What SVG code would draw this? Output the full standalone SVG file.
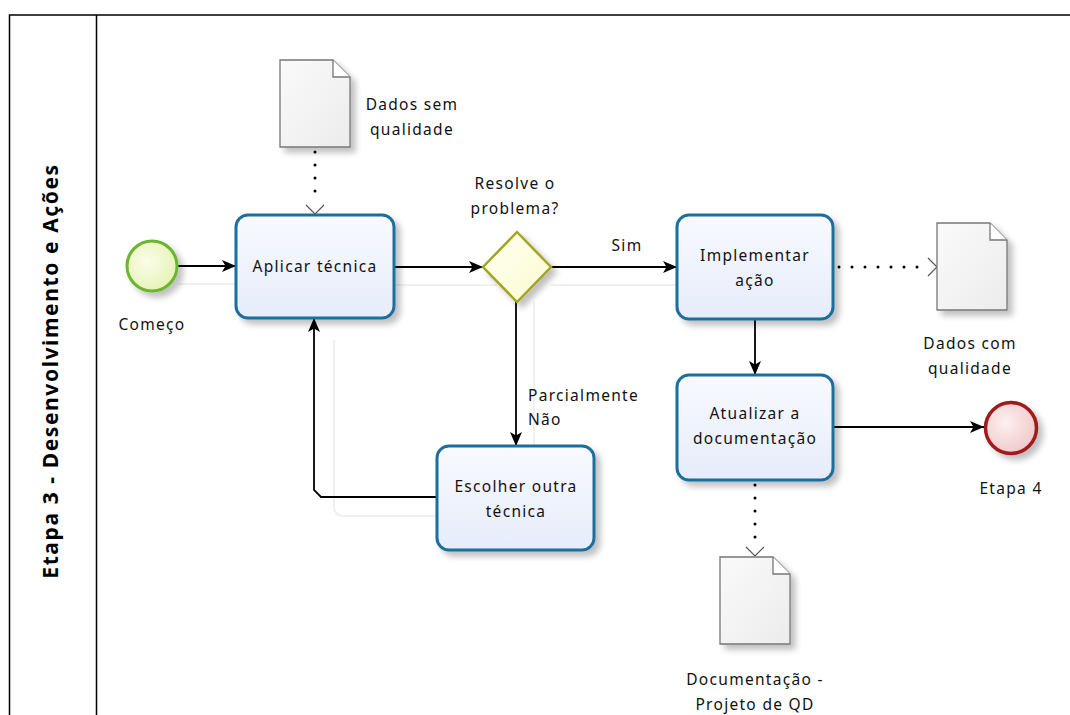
<svg xmlns="http://www.w3.org/2000/svg" width="1070" height="715" viewBox="0 0 1070 715">
  <defs>
    <style>
      .lbl { font-family: "Noto Sans", "DejaVu Sans", sans-serif; font-size: 15.5px; letter-spacing: 1.3px; fill: #111; text-anchor: middle; }
      .lbl-l { font-family: "Noto Sans", "DejaVu Sans", sans-serif; font-size: 15.5px; letter-spacing: 1.3px; fill: #111; }
      .title { font-family: "Noto Sans", "DejaVu Sans", sans-serif; font-size: 21px; letter-spacing: 1.6px; font-weight: bold; fill: #000; text-anchor: middle; }
      .task { fill: url(#taskFill); stroke: #1c6e9f; stroke-width: 3; filter: url(#shadow); }
      .doc { fill: url(#docFill); stroke: #777; stroke-width: 1.3; filter: url(#shadow); }
      .fold { fill: #fff; stroke: #777; stroke-width: 1.3; }
      .flow { fill: none; stroke: #000; stroke-width: 1.8; marker-end: url(#arrow); }
      .assoc { fill: none; stroke: #000; stroke-width: 3; stroke-dasharray: 0 13; stroke-linecap: round; }
      .assoc-head { fill: none; stroke: #555; stroke-width: 1.2; }
      .ghost { fill: none; stroke: #f0f0f0; stroke-width: 2; }
    </style>
    <linearGradient id="taskFill" x1="0" y1="0" x2="0" y2="1">
      <stop offset="0" stop-color="#f8faff"/>
      <stop offset="1" stop-color="#e6ecfa"/>
    </linearGradient>
    <linearGradient id="docFill" x1="0" y1="0" x2="1" y2="1">
      <stop offset="0" stop-color="#fafafa"/>
      <stop offset="1" stop-color="#ececec"/>
    </linearGradient>
    <radialGradient id="startFill" cx="0.4" cy="0.4" r="0.7">
      <stop offset="0" stop-color="#fbfdea"/>
      <stop offset="1" stop-color="#e3f2b0"/>
    </radialGradient>
    <radialGradient id="endFill" cx="0.4" cy="0.4" r="0.7">
      <stop offset="0" stop-color="#fdf0f0"/>
      <stop offset="1" stop-color="#f0c4c6"/>
    </radialGradient>
    <linearGradient id="gwFill" x1="0" y1="0" x2="1" y2="1">
      <stop offset="0" stop-color="#fffff0"/>
      <stop offset="1" stop-color="#fbfbd2"/>
    </linearGradient>
    <filter id="shadow" x="-20%" y="-20%" width="150%" height="150%">
      <feGaussianBlur in="SourceAlpha" stdDeviation="3"/>
      <feOffset dx="5" dy="5" result="b"/>
      <feComponentTransfer><feFuncA type="linear" slope="0.25"/></feComponentTransfer>
      <feMerge><feMergeNode/><feMergeNode in="SourceGraphic"/></feMerge>
    </filter>
    <marker id="arrow" viewBox="0 0 14 12" refX="14" refY="6" markerWidth="14" markerHeight="12" markerUnits="userSpaceOnUse" orient="auto">
      <path d="M0,0 L14,6 L0,12 L3.5,6 z" fill="#000"/>
    </marker>
  </defs>

  <rect width="1070" height="715" fill="#fff"/>

  <!-- pool / lane frame -->
  <g id="pool">
    <path d="M1072,15 H9.5 V716" fill="none" stroke="#000" stroke-width="1.5"/>
    <line x1="96.5" y1="15" x2="96.5" y2="716" stroke="#000" stroke-width="1.5"/>
    <text class="title" transform="translate(58,371) rotate(-90)">Etapa 3 - Desenvolvimento e Ações</text>
  </g>

  <!-- connectors -->
  <g id="connectors">
    <!-- faint guide traces behind flows -->
    <path class="ghost" d="M178,284 H236 M395,285 H497 M551,285 H677 M534,302 V446 M594,516 H344 Q334,516 334,506 V340"/>
    <path class="flow" d="M178,266 H236"/>
    <path class="flow" d="M395,267 H483"/>
    <path class="flow" d="M551,267 H677"/>
    <path class="flow" d="M516,302 V446"/>
    <path class="flow" d="M437,497 H321 L314,490 V318"/>
    <path class="flow" d="M755,319 V375"/>
    <path class="flow" d="M833,427 H984"/>
    <!-- data associations -->
    <path class="assoc" d="M315,152 V204"/>
    <path class="assoc-head" d="M306,205 L315,214 L324,205"/>
    <path class="assoc" d="M839,267 H925"/>
    <path class="assoc-head" d="M928,258 L937,267 L928,276"/>
    <path class="assoc" d="M755,485 V540"/>
    <path class="assoc-head" d="M746,547 L755,556 L764,547"/>
    <text class="lbl" x="627" y="251">Sim</text>
    <text class="lbl-l" x="528" y="401">Parcialmente</text>
    <text class="lbl-l" x="528" y="425">Não</text>
  </g>

  <g id="start">
    <circle cx="152" cy="266" r="25" fill="url(#startFill)" stroke="#6cb52d" stroke-width="3" filter="url(#shadow)"/>
    <text class="lbl" x="152" y="330">Começo</text>
  </g>

  <g id="doc-dados-sem">
    <path class="doc" d="M280,60 H333 L350,77 V147 H280 Z"/>
    <path class="fold" d="M333,60 V77 H350"/>
    <text class="lbl" x="412" y="110">Dados sem</text>
    <text class="lbl" x="412" y="135">qualidade</text>
  </g>

  <g id="task-aplicar">
    <rect class="task" x="236" y="215" width="158" height="103" rx="12"/>
    <text class="lbl" x="315" y="272">Aplicar técnica</text>
  </g>

  <g id="gateway">
    <path d="M517,232 L551,267 L517,302 L483,267 Z" fill="url(#gwFill)" stroke="#a3a523" stroke-width="2.5" stroke-linejoin="miter" filter="url(#shadow)"/>
    <text class="lbl" x="515" y="189">Resolve o</text>
    <text class="lbl" x="515" y="214">problema?</text>
  </g>

  <g id="task-implementar">
    <rect class="task" x="677" y="215" width="156" height="104" rx="12"/>
    <text class="lbl" x="755" y="261">Implementar</text>
    <text class="lbl" x="755" y="286">ação</text>
  </g>

  <g id="doc-dados-com">
    <path class="doc" d="M937,223 H990 L1007,240 V310 H937 Z"/>
    <path class="fold" d="M990,223 V240 H1007"/>
    <text class="lbl" x="970" y="349">Dados com</text>
    <text class="lbl" x="970" y="374">qualidade</text>
  </g>

  <g id="task-atualizar">
    <rect class="task" x="677" y="375" width="156" height="105" rx="12"/>
    <text class="lbl" x="755" y="419">Atualizar a</text>
    <text class="lbl" x="755" y="444">documentação</text>
  </g>

  <g id="end">
    <circle cx="1011" cy="428" r="25.5" fill="url(#endFill)" stroke="#a01a1c" stroke-width="3.5" filter="url(#shadow)"/>
    <text class="lbl" x="1011" y="494">Etapa 4</text>
  </g>

  <g id="task-escolher">
    <rect class="task" x="437" y="446" width="157" height="104" rx="12"/>
    <text class="lbl" x="516" y="492">Escolher outra</text>
    <text class="lbl" x="516" y="517">técnica</text>
  </g>

  <g id="doc-documentacao">
    <path class="doc" d="M720,557 H773 L790,574 V644 H720 Z"/>
    <path class="fold" d="M773,557 V574 H790"/>
    <text class="lbl" x="755" y="685">Documentação -</text>
    <text class="lbl" x="755" y="710">Projeto de QD</text>
  </g>
</svg>
